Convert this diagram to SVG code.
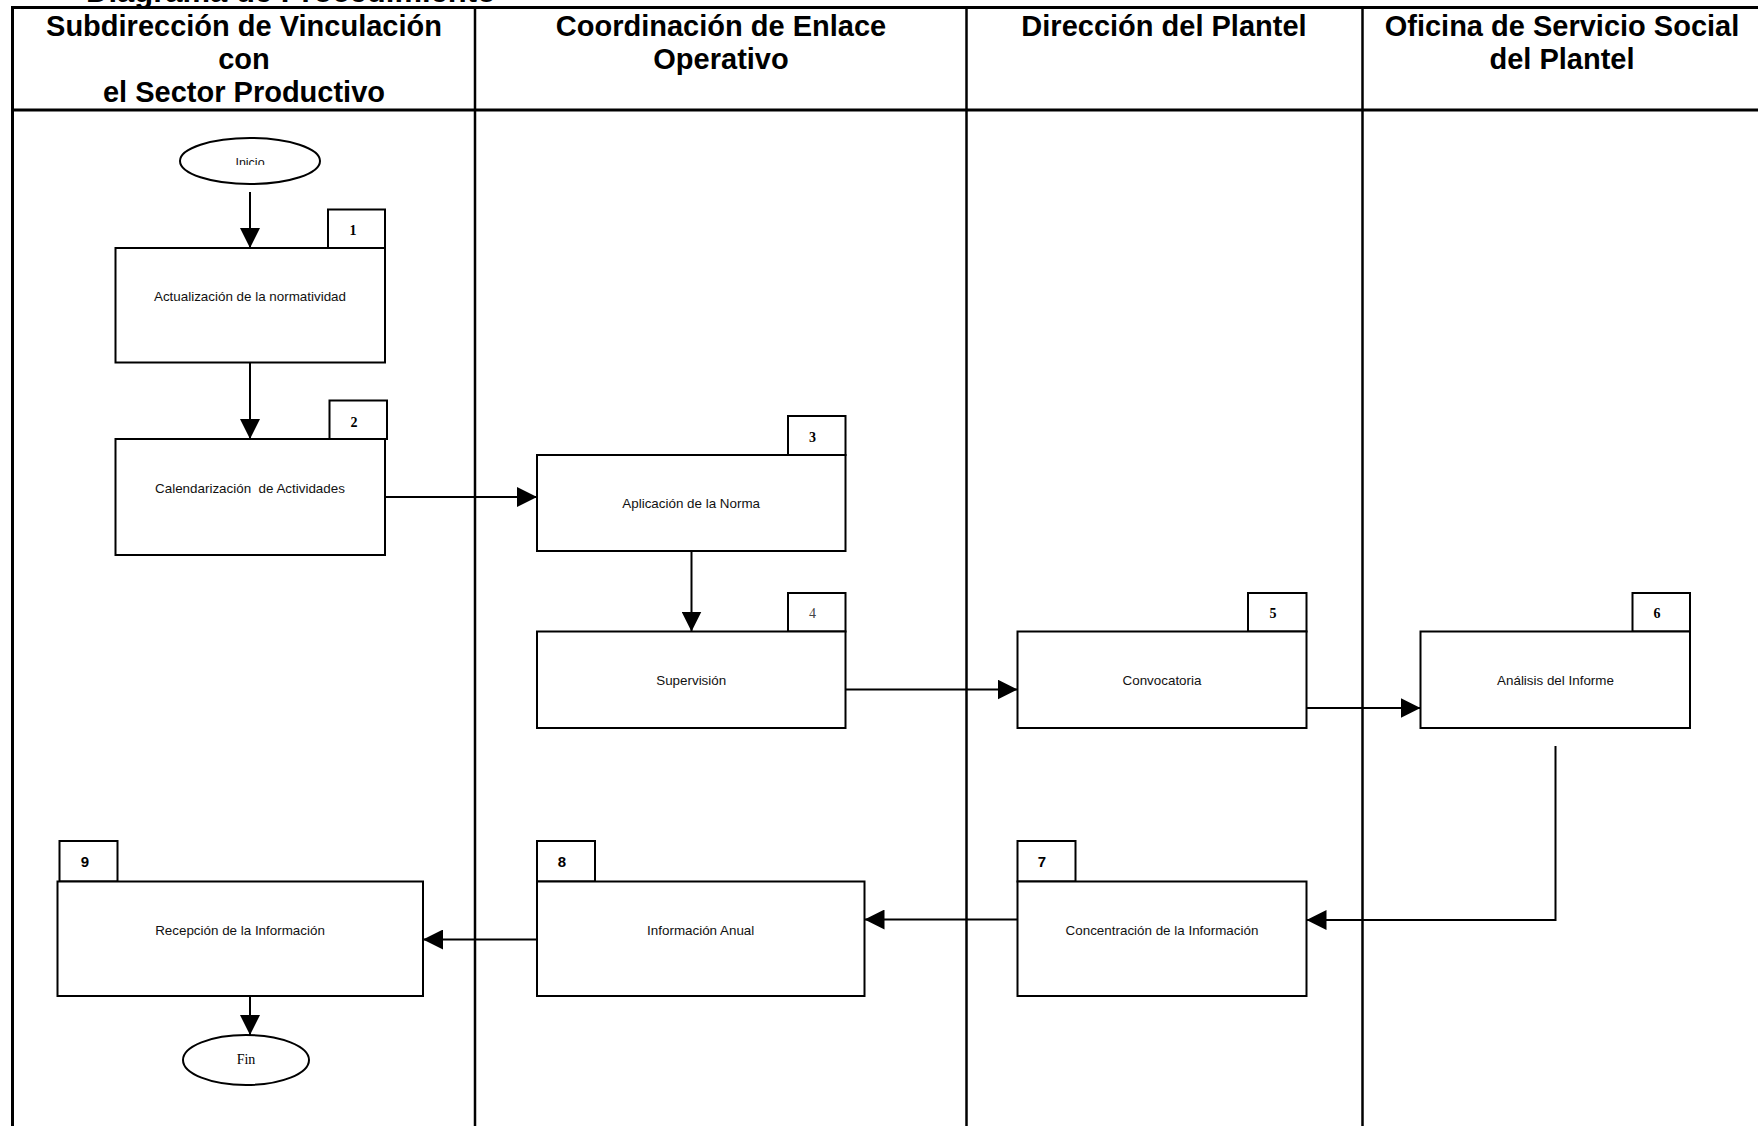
<svg xmlns="http://www.w3.org/2000/svg" width="1758" height="1126" viewBox="0 0 1758 1126">
<style>
.hdr{font-family:"Liberation Sans",Arial,sans-serif;font-weight:bold;font-size:29px;text-anchor:middle;fill:#000}
.lbl{font-family:"Liberation Sans",Arial,sans-serif;font-size:13.4px;text-anchor:middle;fill:#111}
.box{fill:#fff;stroke:#000;stroke-width:2}
.tab{fill:#fff;stroke:#000;stroke-width:2}
.nser{font-family:"Liberation Serif","Times New Roman",serif;font-weight:bold;font-size:14px;text-anchor:middle;fill:#000}
.nserr{font-family:"Liberation Serif","Times New Roman",serif;font-size:14px;text-anchor:middle;fill:#444}
.nsan{font-family:"Liberation Sans",Arial,sans-serif;font-weight:bold;font-size:15px;text-anchor:middle;fill:#000}
.frame{fill:none;stroke:#000;stroke-width:3}
.lane{stroke:#000;stroke-width:2.5}
.conn{fill:none;stroke:#000;stroke-width:2}
.term{fill:#fff;stroke:#000;stroke-width:2}
</style>
<defs>
<marker id="ah" markerUnits="userSpaceOnUse" markerWidth="20" markerHeight="20" refX="20" refY="10" orient="auto" viewBox="0 0 20 20">
<path d="M0,0 L20,10 L0,20 Z" fill="#000"/>
</marker>
<clipPath id="clipInicio"><rect x="150" y="140" width="200" height="25"/></clipPath>
</defs>
<rect width="1758" height="1126" fill="#fff"/>
<g id="title">
<text x="86" y="2" style="font-family:'Liberation Sans',Arial,sans-serif;font-weight:bold;font-size:31px;fill:#000">Diagrama de Procedimiento</text>
</g>
<g id="lanes">
<rect class="frame" x="12.5" y="7.5" width="1750" height="1130"/>
<line class="frame" x1="12" y1="110" x2="1762" y2="110"/>
<line class="lane" x1="475" y1="7.5" x2="475" y2="1130"/>
<line class="lane" x1="966.5" y1="7.5" x2="966.5" y2="1130"/>
<line class="lane" x1="1362.5" y1="7.5" x2="1362.5" y2="1130"/>
<text class="hdr" x="244" y="36">Subdirección de Vinculación</text>
<text class="hdr" x="244" y="69">con</text>
<text class="hdr" x="244" y="101.5">el Sector Productivo</text>
<text class="hdr" x="721" y="36">Coordinación de Enlace</text>
<text class="hdr" x="721" y="69">Operativo</text>
<text class="hdr" x="1164" y="36">Dirección del Plantel</text>
<text class="hdr" x="1562" y="36">Oficina de Servicio Social</text>
<text class="hdr" x="1562" y="69">del Plantel</text>
</g>
<g id="connectors">
<line class="conn" x1="250" y1="192" x2="250" y2="248" marker-end="url(#ah)"/>
<line class="conn" x1="250" y1="362" x2="250" y2="439" marker-end="url(#ah)"/>
<line class="conn" x1="385" y1="497" x2="537" y2="497" marker-end="url(#ah)"/>
<line class="conn" x1="691.5" y1="548" x2="691.5" y2="631.5" marker-end="url(#ah)"/>
<line class="conn" x1="845.5" y1="689.5" x2="1017.5" y2="689.5" marker-end="url(#ah)"/>
<line class="conn" x1="1306.5" y1="708" x2="1420.5" y2="708" marker-end="url(#ah)"/>
<polyline class="conn" points="1555.5,746 1555.5,920 1306.5,920" marker-end="url(#ah)"/>
<line class="conn" x1="1017.5" y1="919.5" x2="864.5" y2="919.5" marker-end="url(#ah)"/>
<line class="conn" x1="537" y1="939.5" x2="423" y2="939.5" marker-end="url(#ah)"/>
<line class="conn" x1="250" y1="996" x2="250" y2="1035" marker-end="url(#ah)"/>
</g>
<g id="inicio">
<ellipse class="term" cx="250" cy="161" rx="70" ry="23"/>
<text class="lbl" x="250" y="166.5" clip-path="url(#clipInicio)" style="font-size:12.5px">Inicio</text>
</g>
<g id="n1">
<rect class="tab" x="328" y="209.5" width="57" height="38.5"/>
<rect class="box" x="115.5" y="248" width="269.5" height="114.5"/>
<text class="nser" x="353" y="235">1</text>
<text class="lbl" x="250" y="300.5">Actualización de la normatividad</text>
</g>
<g id="n2">
<rect class="tab" x="329.5" y="400.5" width="57.5" height="38.5"/>
<rect class="box" x="115.5" y="439" width="269.5" height="116"/>
<text class="nser" x="354" y="426.5">2</text>
<text class="lbl" x="250" y="493" xml:space="preserve">Calendarización  de Actividades</text>
</g>
<g id="n3">
<rect class="tab" x="788" y="416" width="57.5" height="39"/>
<rect class="box" x="537" y="455" width="308.5" height="96"/>
<text class="nser" x="812.5" y="441.5">3</text>
<text class="lbl" x="691.2" y="507.5">Aplicación de la Norma</text>
</g>
<g id="n4">
<rect class="tab" x="788" y="593" width="57.5" height="38.5"/>
<rect class="box" x="537" y="631.5" width="308.5" height="96.5"/>
<text class="nserr" x="812.5" y="618">4</text>
<text class="lbl" x="691.2" y="685">Supervisión</text>
</g>
<g id="n5">
<rect class="tab" x="1248" y="593" width="58.5" height="38.5"/>
<rect class="box" x="1017.5" y="631.5" width="289" height="96.5"/>
<text class="nser" x="1273" y="618">5</text>
<text class="lbl" x="1162" y="685">Convocatoria</text>
</g>
<g id="n6">
<rect class="tab" x="1632.5" y="593" width="57.5" height="38.5"/>
<rect class="box" x="1420.5" y="631.5" width="269.5" height="96.5"/>
<text class="nser" x="1657" y="618">6</text>
<text class="lbl" x="1555.5" y="685">Análisis del Informe</text>
</g>
<g id="n7">
<rect class="tab" x="1017.5" y="841" width="58" height="40.5"/>
<rect class="box" x="1017.5" y="881.5" width="289" height="114.5"/>
<text class="nsan" x="1042" y="867">7</text>
<text class="lbl" x="1162" y="935">Concentración de la Información</text>
</g>
<g id="n8">
<rect class="tab" x="537" y="841" width="58" height="40.5"/>
<rect class="box" x="537" y="881.5" width="327.5" height="114.5"/>
<text class="nsan" x="562" y="867">8</text>
<text class="lbl" x="700.7" y="935">Información Anual</text>
</g>
<g id="n9">
<rect class="tab" x="59.5" y="841" width="58" height="40.5"/>
<rect class="box" x="57.5" y="881.5" width="365.5" height="114.5"/>
<text class="nsan" x="85" y="866.5">9</text>
<text class="lbl" x="240" y="935">Recepción de la Información</text>
</g>
<g id="fin">
<ellipse class="term" cx="246" cy="1060" rx="63" ry="25"/>
<text class="nserr" x="246" y="1064" style="font-weight:normal;font-size:14px;fill:#000">Fin</text>
</g>
</svg>
